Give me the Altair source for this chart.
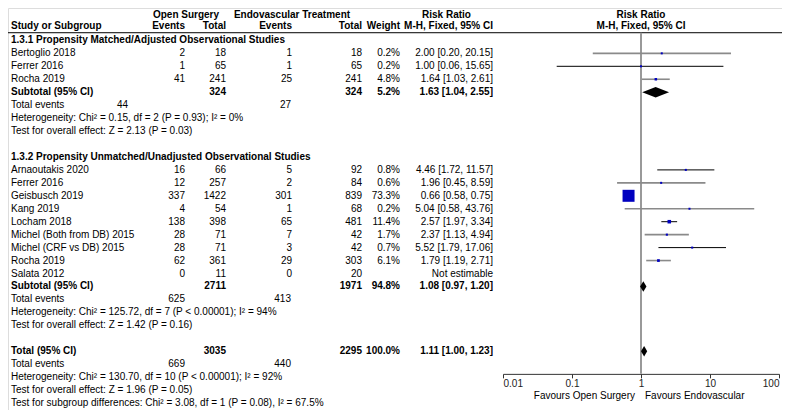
import altair as alt
import pandas as pd

FONT = "Liberation Sans"
FS = 10

# ---------------- data ----------------
g1_study = ["Bertoglio 2018", "Ferrer 2016", "Rocha 2019"]
g1_os_events = [2, 1, 41]
g1_os_total = [18, 65, 241]
g1_ev_events = [1, 1, 25]
g1_ev_total = [18, 65, 241]
g1_weight = [0.2, 0.2, 4.8]
g1_rr = [2.00, 1.00, 1.64]
g1_lo = [0.20, 0.06, 1.03]
g1_hi = [20.15, 15.65, 2.61]

g2_study = ["Arnaoutakis 2020", "Ferrer 2016", "Geisbusch 2019", "Kang 2019", "Locham 2018",
            "Michel (Both from DB) 2015", "Michel (CRF vs DB) 2015", "Rocha 2019", "Salata 2012"]
g2_os_events = [16, 12, 337, 4, 138, 28, 28, 62, 0]
g2_os_total = [66, 257, 1422, 54, 398, 71, 71, 361, 11]
g2_ev_events = [5, 2, 301, 1, 65, 7, 3, 29, 0]
g2_ev_total = [92, 84, 839, 68, 481, 42, 42, 303, 20]
g2_weight = [0.8, 0.6, 73.3, 0.2, 11.4, 1.7, 0.7, 6.1, None]
g2_rr = [4.46, 1.96, 0.66, 5.04, 2.57, 2.37, 5.52, 1.79, None]
g2_lo = [1.72, 0.45, 0.58, 0.58, 1.97, 1.13, 1.79, 1.19, None]
g2_hi = [11.57, 8.59, 0.75, 43.76, 3.34, 4.94, 17.06, 2.71, None]

group_titles = ["1.3.1 Propensity Matched/Adjusted Observational Studies",
                "1.3.2 Propensity Unmatched/Unadjusted Observational Studies"]
summary_label = ["Subtotal (95% CI)", "Subtotal (95% CI)", "Total (95% CI)"]
summary_os_total = [324, 2711, 3035]
summary_ev_total = [324, 1971, 2295]
summary_weight = [5.2, 94.8, 100.0]
summary_rr = [1.63, 1.08, 1.11]
summary_lo = [1.04, 0.97, 1.00]
summary_hi = [2.55, 1.20, 1.23]
total_os_events = [44, 625, 669]
total_ev_events = [27, 413, 440]
heterogeneity = [
    "Heterogeneity: Chi\u00b2 = 0.15, df = 2 (P = 0.93); I\u00b2 = 0%",
    "Heterogeneity: Chi\u00b2 = 125.72, df = 7 (P < 0.00001); I\u00b2 = 94%",
    "Heterogeneity: Chi\u00b2 = 130.70, df = 10 (P < 0.00001); I\u00b2 = 92%",
]
overall_effect = [
    "Test for overall effect: Z = 2.13 (P = 0.03)",
    "Test for overall effect: Z = 1.42 (P = 0.16)",
    "Test for overall effect: Z = 1.96 (P = 0.05)",
]
subgroup_test = "Test for subgroup differences: Chi\u00b2 = 3.08, df = 1 (P = 0.08), I\u00b2 = 67.5%"
axis_ticks = [0.01, 0.1, 1, 10, 100]
favours = ["Favours Open Surgery", "Favours Endovascular"]

# line shade per study row (rendering style seen in the picture)
g1_shade = ["grey", "black", "grey"]
g2_shade = ["black", "grey", "black", "grey", "black", "grey", "black", "grey", "none"]

# ---------------- layout helpers ----------------
W, H = 774, 402


def yk(k):
    return 6.5 + (27 + 13.5 * k) * 388.5 / 405


YS = alt.Scale(domain=[0, 28], range=[yk(0), yk(28)], zero=False, nice=False)
XS = alt.Scale(type="log", domain=[0.01, 100], range=[495, 771])
AX = alt.Axis(values=axis_ticks, format="~g", title=None, grid=False,
              orient="bottom", offset=yk(25.75) - H, tickSize=4, labelFlush=True,
              labelPadding=1, labelFont=FONT, labelFontSize=FS, labelColor="#222",
              domainColor="#333", tickColor="#333", labelAngle=0)


def fmt_rr(r, lo, hi):
    if r is None:
        return "Not estimable"
    return f"{r:.2f} [{lo:.2f}, {hi:.2f}]"


rows = []


def add(k, label="", oe="", ot="", ee="", et="", w="", rr="", bold=False):
    rows.append(dict(k=k, label=label, oe=str(oe), ot=str(ot), ee=str(ee), et=str(et),
                     w=w, rr=rr, bold=bold))


studies = []  # forest rows


def add_group(k0, title, st, oe, ot, ee, et, wt, rr, lo, hi, shade):
    add(k0, title, bold=True)
    for i in range(len(st)):
        k = k0 + 1 + i
        add(k, st[i], oe[i], ot[i], ee[i], et[i],
            "" if wt[i] is None else f"{wt[i]:.1f}%", fmt_rr(rr[i], lo[i], hi[i]))
        if rr[i] is not None:
            studies.append(dict(k=k, rr=rr[i], lo=lo[i], hi=hi[i], w=wt[i], shade=shade[i]))
    return k0 + 1 + len(st)


k_sub1 = add_group(0, group_titles[0], g1_study, g1_os_events, g1_os_total, g1_ev_events,
                   g1_ev_total, g1_weight, g1_rr, g1_lo, g1_hi, g1_shade)
k_sub2 = add_group(9, group_titles[1], g2_study, g2_os_events, g2_os_total, g2_ev_events,
                   g2_ev_total, g2_weight, g2_rr, g2_lo, g2_hi, g2_shade)
k_tot = 24
summ_k = [k_sub1, k_sub2, k_tot]

ev_rows = []
for i, ks in enumerate(summ_k):
    add(ks, summary_label[i], "", summary_os_total[i], "", summary_ev_total[i],
        f"{summary_weight[i]:.1f}%", fmt_rr(summary_rr[i], summary_lo[i], summary_hi[i]), bold=True)
    add(ks + 1, "Total events")
    ev_rows.append(dict(k=ks + 1, a=str(total_os_events[i]), b=str(total_ev_events[i]), first=(i == 0)))
    add(ks + 2, heterogeneity[i])
    add(ks + 3, overall_effect[i])
add(28, subgroup_test)

df = pd.DataFrame(rows)
df_plain = df[~df.bold]
df_bold = df[df.bold]
df_st = pd.DataFrame(studies)
df_ev = pd.DataFrame(ev_rows)

dia = []
for i, ks in enumerate(summ_k):
    dia.append(dict(id=i, x=summary_lo[i], y=ks, y2=ks))
    dia.append(dict(id=i, x=summary_rr[i], y=ks - 0.4, y2=ks + 0.4))
    dia.append(dict(id=i, x=summary_hi[i], y=ks, y2=ks))
df_dia = pd.DataFrame(dia)


def txt(data, field, x, align, bold=False, color="black"):
    return alt.Chart(data).mark_text(
        align=align, baseline="middle", font=FONT, fontSize=FS,
        fontWeight="bold" if bold else "normal", color=color
    ).encode(x=alt.value(x), y=alt.Y("k:Q", scale=YS, axis=None), text=f"{field}:N")


layers = []

# header
hdr1 = pd.DataFrame({"k": [-2.0]})
hdr2 = pd.DataFrame({"k": [-1.111]})
for t, x, a in [("Open Surgery", 178, "center"), ("Endovascular Treatment", 284, "center"),
                ("Risk Ratio", 438.5, "center"), ("Risk Ratio", 633, "center")]:
    layers.append(alt.Chart(hdr1).mark_text(align=a, baseline="middle", font=FONT, fontSize=FS,
                                            fontWeight="bold", text=t)
                  .encode(x=alt.value(x), y=alt.Y("k:Q", scale=YS, axis=None)))
for t, x, a in [("Study or Subgroup", 3, "left"), ("Events", 177, "right"), ("Total", 218, "right"),
                ("Events", 284, "right"), ("Total", 354, "right"), ("Weight", 392, "right"),
                ("M-H, Fixed, 95% CI", 485, "right"), ("M-H, Fixed, 95% CI", 633, "center")]:
    layers.append(alt.Chart(hdr2).mark_text(align=a, baseline="middle", font=FONT, fontSize=FS,
                                            fontWeight="bold", text=t)
                  .encode(x=alt.value(x), y=alt.Y("k:Q", scale=YS, axis=None)))

layers.append(alt.Chart(pd.DataFrame({"k": [-0.593]})).mark_rule(color="black", strokeWidth=1)
              .encode(x=alt.value(-2), x2=alt.value(W), y=alt.Y("k:Q", scale=YS, axis=None)))

# null line
layers.append(alt.Chart(pd.DataFrame({"x": [1.0], "k1": [-0.593], "k2": [25.75]}))
              .mark_rule(color="#999999", strokeWidth=2)
              .encode(x=alt.X("x:Q", scale=XS, axis=AX), y=alt.Y("k1:Q", scale=YS, axis=None), y2="k2:Q"))

# text columns
for data, bold in [(df_plain, False), (df_bold, True)]:
    layers.append(txt(data, "label", 3, "left", bold))
    layers.append(txt(data, "oe", 177, "right", bold))
    layers.append(txt(data, "ot", 218, "right", bold))
    layers.append(txt(data, "ee", 284, "right", bold))
    layers.append(txt(data, "et", 354, "right", bold))
    layers.append(txt(data, "w", 392, "right", bold))
    layers.append(txt(data, "rr", 485, "right", bold))

layers.append(txt(df_ev[df_ev["first"]], "a", 120, "right"))
layers.append(txt(df_ev[~df_ev["first"]], "a", 177, "right"))
layers.append(txt(df_ev, "b", 283, "right"))

# CI lines
layers.append(alt.Chart(df_st).mark_rule().encode(
    x=alt.X("lo:Q", scale=XS, axis=AX), x2="hi:Q",
    y=alt.Y("k:Q", scale=YS, axis=None),
    color=alt.Color("shade:N", scale=alt.Scale(domain=["grey", "black"], range=["#8a8a8a", "#000000"]), legend=None),
    strokeWidth=alt.StrokeWidth("shade:N", scale=alt.Scale(domain=["grey", "black"], range=[1.6, 1.0]), legend=None),
))
# squares
layers.append(alt.Chart(df_st).mark_square(color="#0000c0", opacity=1).encode(
    x=alt.X("rr:Q", scale=XS, axis=AX),
    y=alt.Y("k:Q", scale=YS, axis=None),
    size=alt.Size("w:Q", scale=alt.Scale(type="pow", exponent=1.5, domain=[0, 73.3], range=[4, 144]), legend=None),
))
# diamonds
layers.append(alt.Chart(df_dia).mark_area(color="black", orient="vertical", opacity=1).encode(
    x=alt.X("x:Q", scale=XS, axis=AX),
    y=alt.Y("y:Q", scale=YS, axis=None), y2="y2:Q", detail="id:N",
))

# favours labels
fav = pd.DataFrame({"k": [27.45, 27.45], "t": favours})
layers.append(txt(fav.iloc[[0]], "t", 627, "right"))
layers.append(txt(fav.iloc[[1]], "t", 637, "left"))

chart = alt.layer(*layers).properties(
    width=W, height=H, autosize=alt.AutoSizeParams(type="none"), padding=0
).configure_view(stroke=None).configure(background="white")

chart.save("out.html", embed_options={"renderer": "svg", "actions": False})
